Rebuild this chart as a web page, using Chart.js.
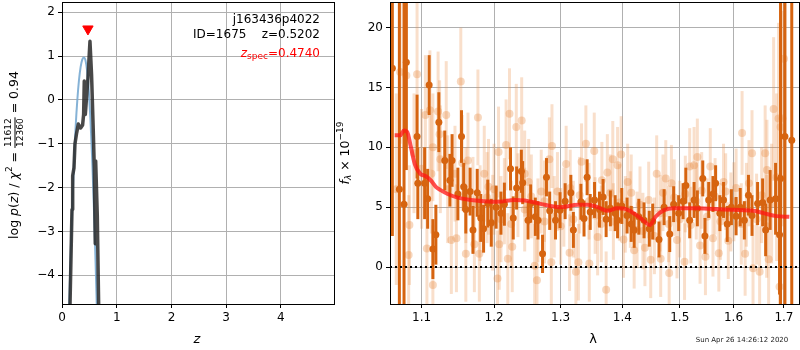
<!DOCTYPE html>
<html>
<head>
<meta charset="utf-8">
<script src="https://cdn.jsdelivr.net/npm/chart.js@4/dist/chart.umd.min.js"></script>
<style>
  html, body { margin: 0; padding: 0; background: #fff; }
  #wrap { position: relative; width: 800px; height: 350px; overflow: hidden; }
  #pz { position: absolute; left: 0; top: 0; }
  #spec { position: absolute; left: 335px; top: 0; }
</style>
</head>
<body>
<div id="wrap">
  <canvas id="pz" width="340" height="350"></canvas>
  <canvas id="spec" width="465" height="350"></canvas>
</div>
<script>
// ===== left panel: log p(z) =====
const zTicks = [0, 1, 2, 3, 4];
const logpTicks = [-4, -3, -2, -1, 0, 1, 2];

// smooth prior-ish curve (blue)
const blueZ =   [0.13, 0.16, 0.19, 0.22, 0.25, 0.28, 0.31, 0.34, 0.37, 0.40, 0.43, 0.46, 0.49, 0.52, 0.55, 0.58, 0.61, 0.64];
const blueLog = [-4.75, -3.45, -2.35, -1.4, -0.6, 0.0, 0.45, 0.75, 0.92, 0.97, 0.9, 0.65, 0.2, -0.45, -1.3, -2.35, -3.55, -4.9];

// jagged p(z) (black)
const pzZ =   [0.146, 0.182, 0.183, 0.195, 0.219, 0.237, 0.268, 0.298, 0.34, 0.377, 0.395, 0.407, 0.426, 0.474, 0.511, 0.54, 0.57, 0.59, 0.608, 0.615, 0.645, 0.67];
const pzLog = [-4.7, -2.53, -2.5, -1.73, -1.55, -1.0, -0.75, -0.55, -0.64, -0.57, -0.33, 0.43, -0.33, 0.5, 1.34, 0.58, -0.64, -1.55, -3.28, -1.39, -2.65, -4.7];

const zSpec = [0.474];
const zSpecMark = [1.62];

// ===== right panel: spectrum =====
const lamTicks = [1.1, 1.2, 1.3, 1.4, 1.5, 1.6, 1.7];
const fluxTicks = [0, 5, 10, 15, 20];

const darkLam = [1.058, 1.062, 1.071, 1.077, 1.080, 1.094, 1.095, 1.104, 1.108, 1.110, 1.115, 1.119, 1.123, 1.131, 1.138, 1.141,
  1.149, 1.154, 1.157, 1.160, 1.166, 1.170, 1.176, 1.181, 1.185, 1.191, 1.196, 1.203, 1.210, 1.215, 1.224, 1.228, 1.233, 1.240,
  1.242, 1.250, 1.254, 1.261, 1.265, 1.272, 1.278, 1.283, 1.292, 1.299, 1.307, 1.316, 1.320, 1.332, 1.337, 1.342, 1.347, 1.354,
  1.362, 1.368, 1.373, 1.380, 1.388, 1.392, 1.399, 1.408, 1.415, 1.420, 1.428, 1.437, 1.446, 1.452, 1.463, 1.472, 1.482, 1.489,
  1.498, 1.506, 1.511, 1.518, 1.526, 1.532, 1.542, 1.546, 1.553, 1.561, 1.566, 1.574, 1.581, 1.588, 1.596, 1.605, 1.613, 1.621,
  1.629, 1.636, 1.647, 1.657, 1.663, 1.672, 1.683, 1.691, 1.693, 1.702, 1.716];
const darkFlux = [5.2, 16.6, 6.5, 5.25, 17.1, 10.9, 7.0, 7.0, 5.7, 15.2, 1.5, 2.7, 12.1, 8.9, 7.25, 8.9,
  6.1, 10.9, 6.7, 4.8, 6.3, 3.1, 6.2, 4.1, 3.2, 5.3, 3.7, 5.0, 4.5, 5.25, 8.2, 4.1, 6.6, 8.0,
  7.05, 3.9, 5.3, 4.2, 3.9, 1.1, 7.5, 4.7, 3.9, 4.75, 5.5, 6.2, 3.1, 5.45, 4.05, 7.5, 4.6, 5.6,
  4.8, 5.85, 4.0, 4.9, 4.5, 3.9, 5.1, 4.3, 3.6, 3.1, 4.2, 3.9, 3.2, 3.8, 2.3, 5.0, 2.75, 5.25,
  4.5, 5.5, 6.8, 3.9, 5.6, 4.9, 7.4, 2.6, 5.6, 6.1, 7.0, 4.5, 5.6, 3.6, 5.0, 4.25, 5.0, 3.9,
  6.0, 4.3, 5.3, 5.4, 3.1, 5.6, 5.7, 2.7, 7.4, 10.9, 10.6];
const darkErr = [8.3, 14, 16, 20, 9, 3.5, 3, 3, 2.5, 2.5, 2.5, 2.5, 2.5, 2.5, 2.2, 2.2,
  2.2, 2.2, 2, 2, 2, 2, 2, 2, 2, 2, 2, 1.8, 1.8, 1.8, 1.8, 1.8, 1.8, 1.8,
  1.8, 1.6, 1.6, 1.6, 1.6, 1.6, 1.6, 1.6, 1.6, 1.5, 1.5, 1.5, 1.5, 1.5, 1.5, 1.5, 1.5, 1.5,
  1.5, 1.5, 1.5, 1.5, 1.5, 1.5, 1.5, 1.5, 1.5, 1.5, 1.5, 1.5, 1.5, 1.5, 1.5, 1.5, 1.5, 1.5,
  1.5, 1.5, 1.5, 1.5, 1.5, 1.5, 1.5, 1.5, 1.5, 1.5, 1.5, 1.5, 1.5, 1.5, 1.5, 1.6, 1.6, 1.6,
  1.7, 1.7, 1.8, 2.0, 2.2, 2.5, 3.0, 5.0, 16, 14, 16];

const lightLam = [1.072, 1.080, 1.067, 1.094, 1.105, 1.084, 1.083, 1.111, 1.113, 1.115, 1.122, 1.133, 1.107, 1.124, 1.140, 1.147,
  1.153, 1.155, 1.163, 1.160, 1.172, 1.177, 1.179, 1.186, 1.192, 1.198, 1.205, 1.2065, 1.2075, 1.2175, 1.220, 1.2225, 1.2265,
  1.2325, 1.2405, 1.245, 1.251, 1.260, 1.2635, 1.270, 1.275, 1.2825, 1.2855, 1.2865, 1.300, 1.3086, 1.314, 1.324, 1.328, 1.333,
  1.340, 1.3455, 1.3535, 1.359, 1.366, 1.373, 1.375, 1.384, 1.392, 1.398, 1.402, 1.409, 1.4135, 1.420, 1.425, 1.4385, 1.4485,
  1.459, 1.466, 1.475, 1.481, 1.485, 1.495, 1.5086, 1.518, 1.526, 1.532, 1.537, 1.547, 1.556, 1.561, 1.572, 1.581, 1.590,
  1.6007, 1.6166, 1.6225, 1.636, 1.638, 1.651, 1.662, 1.6656, 1.669, 1.679, 1.689, 1.691, 1.697, 1.700, 1.693,
  1.09, 1.10, 1.115, 1.125, 1.135, 1.145, 1.16, 1.17, 1.18, 1.19, 1.20, 1.21, 1.215, 1.225, 1.235, 1.245, 1.255, 1.265,
  1.275, 1.29, 1.295, 1.305, 1.315, 1.32, 1.33, 1.345, 1.355, 1.365, 1.38, 1.385, 1.395, 1.405, 1.415, 1.43, 1.435, 1.445,
  1.455, 1.465, 1.47, 1.48, 1.49, 1.50, 1.51, 1.52, 1.53, 1.54, 1.55, 1.565, 1.575, 1.585, 1.595, 1.605, 1.615, 1.625,
  1.63, 1.645, 1.655, 1.665, 1.675, 1.685];
const lightFlux = [16.3, 16.0, 6.5, 16.1, 12.7, 3.5, 1.0, 13.1, 7.8, -1.5, 13.0, 12.7, 1.55, 11.1, 2.25, 2.4,
  15.5, 8.7, 8.9, 1.1, 1.9, 12.5, 1.1, 7.8, 6.7, 3.7, -0.95, 9.6, 1.9, 10.2, 0.7, 12.8, 1.7,
  11.7, 12.25, 7.8, 7.1, 0.1, -1.1, 6.3, 3.8, 9.0, 0.4, 10.1, 3.4, 8.6, 1.2, -0.4, 0.4, 8.8,
  10.3, 0.3, 9.7, 2.5, 7.25, -1.9, 7.9, 9.0, 8.5, 9.4, 2.3, 7.1, 4.8, 1.4, 3.1, 1.6, 0.6,
  7.8, 0.7, 7.4, -0.5, 7.0, 2.25, 0.45, 8.4, 8.5, 9.2, 1.8, 0.85, 8.4, 2.4, 1.15, 7.1, 2.2,
  5.45, 11.2, 1.1, 9.5, -0.1, -0.4, 9.5, 8.1, 0.65, 13.2, 12.4, -1.65, 12.4, 17.4, 11.7,
  9.5, 8.2, 10.0, 9.0, 6.5, 7.8, 6.0, 5.2, 4.5, 5.8, 6.5, 4.0, 5.5, 3.6, 6.0, 4.8, 5.9, 3.9,
  5.5, 4.2, 6.3, 5.0, 6.6, 4.0, 6.0, 5.5, 4.3, 3.6, 6.2, 3.8, 5.4, 4.4, 6.2, 5.2, 3.0, 5.6,
  2.6, 4.5, 6.2, 3.6, 5.8, 4.0, 6.1, 3.5, 5.5, 6.4, 4.2, 5.9, 3.8, 6.3, 4.6, 6.6, 3.6, 5.2,
  7.0, 4.0, 6.0, 3.4, 5.3, 7.5];
const lightErr = [6, 6, 8, 6, 5, 5, 5, 5, 5, 5, 5, 4.5, 5, 4.5, 4.5, 4.5,
  4.5, 4, 4, 4, 4, 4, 4, 4, 4, 4, 4, 3.8, 3.8, 3.8, 3.8, 3.8, 3.8,
  3.6, 3.6, 3.6, 3.6, 3.5, 3.5, 3.5, 3.5, 3.5, 3.5, 3.5, 3.2, 3.2, 3.2, 3.2, 3.2, 3.2,
  3.2, 3.2, 3.2, 3.2, 3.2, 3.2, 3.2, 3.2, 3.2, 3.2, 3.2, 3.2, 3.2, 3.2, 3.2, 3.2, 3.2,
  3.2, 3.2, 3.2, 3.2, 3.2, 3.2, 3.2, 3.2, 3.2, 3.2, 3.2, 3.2, 3.2, 3.2, 3.2, 3.2, 3.2,
  3.3, 3.5, 3.5, 3.6, 3.6, 3.8, 4, 4.2, 4.5, 6, 8, 8, 9, 10, 9,
  5, 5, 4.5, 4.5, 4.5, 4, 4, 4, 4, 3.8, 3.8, 3.6, 3.6, 3.6, 3.5, 3.5, 3.5, 3.5,
  3.4, 3.4, 3.3, 3.3, 3.2, 3.2, 3.2, 3.2, 3.2, 3.2, 3.2, 3.2, 3.2, 3.2, 3.2, 3.2, 3.2, 3.2,
  3.2, 3.2, 3.2, 3.2, 3.2, 3.2, 3.2, 3.2, 3.2, 3.2, 3.2, 3.2, 3.2, 3.2, 3.3, 3.3, 3.4, 3.5,
  3.6, 3.8, 4, 4.3, 5, 7];

const modelLam =  [1.065, 1.072, 1.077, 1.081, 1.086, 1.091, 1.098, 1.105, 1.112, 1.119, 1.126, 1.135, 1.149, 1.167, 1.186,
  1.205, 1.23, 1.245, 1.255, 1.275, 1.30, 1.327, 1.343, 1.359, 1.375, 1.391, 1.408, 1.425, 1.440, 1.447, 1.457, 1.472,
  1.489, 1.532, 1.581, 1.639, 1.659, 1.685, 1.711];
const modelFlux = [11.0, 11.0, 11.4, 11.3, 10.0, 8.6, 7.8, 7.6, 7.25, 6.7, 6.4, 6.1, 5.8, 5.6, 5.5,
  5.45, 5.6, 5.55, 5.45, 5.2, 5.0, 5.2, 5.2, 5.0, 4.7, 4.9, 4.8, 4.3, 3.7, 3.5, 4.2, 4.75,
  4.9, 4.9, 4.8, 4.7, 4.5, 4.25, 4.2];

const FONT = 'DejaVu Sans';
Chart.defaults.font.family = FONT;
Chart.defaults.font.size = 12;
Chart.defaults.color = '#000';

const minus = v => String(v).replace('-', '\u2212');
const pts = (xs, ys) => xs.map((x, i) => ({ x, y: ys[i] }));

// error bars drawn just before each dataset's markers, through the chart scales
const errBars = {
  id: 'errBars',
  beforeDatasetDraw(chart, args) {
    const ds = chart.data.datasets[args.index];
    if (!ds.err) return;
    const { ctx, chartArea: a } = chart;
    const xs = chart.scales.x, ys = chart.scales.y;
    ctx.save();
    ctx.beginPath();
    ctx.rect(a.left, a.top, a.right - a.left, a.bottom - a.top);
    ctx.clip();
    ctx.strokeStyle = ds.errColor;
    ctx.lineWidth = ds.errWidth;
    ds.data.forEach((p, i) => {
      const x = xs.getPixelForValue(p.x);
      ctx.beginPath();
      ctx.moveTo(x, ys.getPixelForValue(p.y - ds.err[i]));
      ctx.lineTo(x, ys.getPixelForValue(p.y + ds.err[i]));
      ctx.stroke();
    });
    ctx.restore();
  }
};

const frame = {
  id: 'frame',
  afterDraw(chart) {
    const { ctx, chartArea: a } = chart;
    ctx.save();
    ctx.strokeStyle = '#000';
    ctx.lineWidth = 1;
    ctx.strokeRect(Math.round(a.left) + 0.5, Math.round(a.top) + 0.5, Math.round(a.right - a.left), Math.round(a.bottom - a.top));
    ctx.restore();
  }
};

// draw a run of [text, font, dy] pieces from x, returns width
function runWidth(ctx, parts) {
  let w = 0;
  parts.forEach(p => { ctx.font = p[1]; w += p[3] || ctx.measureText(p[0]).width; });
  return w;
}
function drawRun(ctx, parts, x, y) {
  parts.forEach(p => {
    ctx.font = p[1];
    ctx.fillText(p[0], x, y + (p[2] || 0));
    x += p[3] || ctx.measureText(p[0]).width;
  });
}

// fixed box sizes, no extra label overflow padding
const fitX = h => s => { s.height = h; s.paddingLeft = 0; s.paddingRight = 0; };
const fitY = w => s => { s.width = w; s.paddingTop = 0; s.paddingBottom = 0; };

function axisOpts(ticks, fmt, min, max) {
  return {
    type: 'linear', min, max,
    afterBuildTicks: s => { s.ticks = ticks.map(v => ({ value: v })); },
    ticks: { callback: fmt, padding: 3, font: { size: 12 }, color: '#000', maxRotation: 0, autoSkip: false },
    grid: { color: '#b0b0b0', lineWidth: 1, tickColor: '#000', tickLength: 4 },
    border: { display: true, color: '#000' }
  };
}

// ----- left chart -----
const leftText = {
  id: 'leftText',
  afterDraw(chart) {
    const ctx = chart.ctx;
    ctx.save();
    ctx.fillStyle = '#000';
    ctx.textAlign = 'right';
    ctx.textBaseline = 'middle';
    ctx.font = '12px ' + FONT;
    ctx.fillText('j163436p4022', 320, 20);
    ctx.fillText('ID=1675    z=0.5202', 320, 35);
    // z_spec in red
    ctx.textAlign = 'left';
    ctx.fillStyle = '#ff0000';
    const zs = [
      ['z', 'italic 12px ' + FONT, 0],
      ['spec', '9px ' + FONT, 3],
      ['=0.4740', '12px ' + FONT, 0]
    ];
    drawRun(ctx, zs, 320 - runWidth(ctx, zs), 54);

    // x label
    ctx.fillStyle = '#000';
    ctx.textAlign = 'center';
    ctx.font = 'italic 13px ' + FONT;
    ctx.fillText('z', 197, 340);

    // y label (rotated, with a stacked fraction)
    ctx.translate(15, 155);
    ctx.rotate(-Math.PI / 2);
    ctx.textAlign = 'left';
    const f = '12.5px ' + FONT, fi = 'italic 12.5px ' + FONT, fs = '9px ' + FONT;
    ctx.font = fs;
    const fracW = Math.max(ctx.measureText('11612').width, ctx.measureText('12360').width) + 2;
    const parts = [
      ['log ', f], ['p', fi], ['(', f], ['z', fi], [') / ', f], ['\u03c7', fi], ['2', fs, -5],
      [' = ', f], ['', f, 0, fracW], [' = 0.94', f]
    ];
    const W = runWidth(ctx, parts);
    let x = -W / 2;
    parts.forEach(p => {
      ctx.font = p[1];
      if (p[3]) {
        ctx.font = fs;
        ctx.textAlign = 'center';
        ctx.fillText('11612', x + p[3] / 2, -6);
        ctx.fillText('12360', x + p[3] / 2, 6);
        ctx.fillRect(x, -0.5, p[3], 1);
        ctx.textAlign = 'left';
        x += p[3];
      } else {
        ctx.fillText(p[0], x, p[2] || 0);
        x += ctx.measureText(p[0]).width;
      }
    });
    ctx.restore();
  }
};

new Chart(document.getElementById('pz'), {
  type: 'scatter',
  data: {
    datasets: [
      { type: 'line', data: pts(zSpec, zSpecMark), showLine: false, pointStyle: 'triangle', rotation: 180,
        pointRadius: 6, pointBackgroundColor: '#ff0000', pointBorderColor: '#ff0000' },
      { type: 'line', data: pts(pzZ, pzLog), borderColor: 'rgba(40,40,40,0.85)', borderWidth: 3.5,
        pointRadius: 0, tension: 0, borderJoinStyle: 'round' },
      { type: 'line', data: pts(blueZ, blueLog), borderColor: 'rgba(120,170,210,0.9)', borderWidth: 2,
        pointRadius: 0, cubicInterpolationMode: 'monotone' }
    ]
  },
  options: {
    responsive: false, animation: false, devicePixelRatio: 1,
    layout: { autoPadding: false, padding: { top: 2, right: 6, left: 0, bottom: 0 } },
    plugins: { legend: { display: false }, tooltip: { enabled: false } },
    scales: {
      x: Object.assign(axisOpts(zTicks, v => minus(v), 0, 4.97), { afterFit: fitX(46) }),
      y: Object.assign(axisOpts(logpTicks, v => minus(v), -4.655, 2.235), { afterFit: fitY(62) })
    }
  },
  plugins: [frame, leftText]
});

// ----- right chart -----
const rightText = {
  id: 'rightText',
  afterDraw(chart) {
    const ctx = chart.ctx;
    ctx.save();
    ctx.fillStyle = '#000';
    ctx.textBaseline = 'middle';
    ctx.textAlign = 'center';
    ctx.font = '13px ' + FONT;
    ctx.fillText('\u03bb', 593 - 335, 340);
    ctx.font = '7px ' + FONT;
    ctx.fillStyle = '#222';
    ctx.fillText('Sun Apr 26 14:26:12 2020', 742 - 335, 340);

    ctx.fillStyle = '#000';
    ctx.translate(346 - 335, 153);
    ctx.rotate(-Math.PI / 2);
    ctx.textAlign = 'left';
    const parts = [
      ['f', 'italic 12.5px ' + FONT, 0],
      ['\u03bb', 'italic 9px ' + FONT, 3],
      [' \u00d7 10', '12.5px ' + FONT, 0],
      ['\u221219', '9px ' + FONT, -5]
    ];
    drawRun(ctx, parts, -runWidth(ctx, parts) / 2, 0);
    ctx.restore();
  }
};

const lamAxis = axisOpts(lamTicks, v => Number(v).toFixed(1), 1.059, 1.731);
lamAxis.type = 'logarithmic';
lamAxis.afterFit = fitX(46);
const fluxAxis = axisOpts(fluxTicks, v => minus(v), -3.09, 22.14);
fluxAxis.afterFit = fitY(55);

new Chart(document.getElementById('spec'), {
  type: 'scatter',
  data: {
    datasets: [
      { type: 'line', data: pts(modelLam, modelFlux), borderColor: 'rgba(255,20,20,0.75)', borderWidth: 4,
        pointRadius: 0, cubicInterpolationMode: 'monotone' },
      { type: 'line', data: pts([1.059, 1.731], [0, 0]), borderColor: '#000', borderWidth: 2,
        borderDash: [2, 3], pointRadius: 0 },
      { data: pts(darkLam, darkFlux), err: darkErr, errColor: 'rgb(214,100,16)', errWidth: 3,
        pointRadius: 3.5, pointBackgroundColor: 'rgb(214,100,16)', pointBorderWidth: 0 },
      { data: pts(lightLam, lightFlux), err: lightErr, errColor: 'rgba(232,140,70,0.28)', errWidth: 3,
        pointRadius: 4, pointBackgroundColor: 'rgba(232,140,70,0.35)', pointBorderWidth: 0 }
    ]
  },
  options: {
    responsive: false, animation: false, devicePixelRatio: 1,
    layout: { autoPadding: false, padding: { top: 2, right: 1, left: 0, bottom: 0 } },
    plugins: { legend: { display: false }, tooltip: { enabled: false } },
    scales: { x: lamAxis, y: fluxAxis }
  },
  plugins: [errBars, frame, rightText]
});
</script>
</body>
</html>
